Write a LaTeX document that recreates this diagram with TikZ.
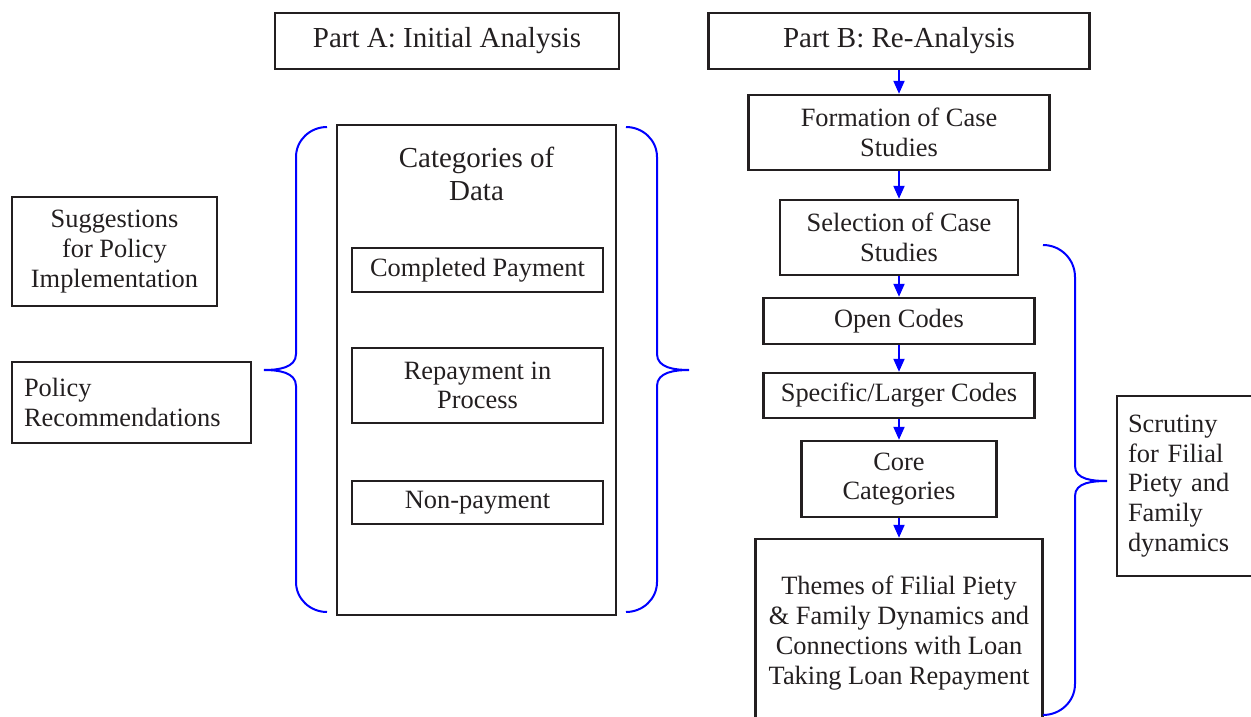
\documentclass[tikz,border=0pt]{standalone}
\usepackage{fontspec}
\setmainfont{Liberation Serif}
\usetikzlibrary{arrows.meta}
\definecolor{ink}{HTML}{231F20}
\definecolor{bl}{RGB}{0,0,255}
\begin{document}
\begin{tikzpicture}[x=1pt,y=-1pt,
  box/.style={draw=ink, line width=2.4pt, text=ink, inner sep=0pt, align=center,
              font=\fontsize{26.4}{29.7}\selectfont},
  hbox/.style={box, font=\fontsize{29}{33}\selectfont},
  lbox/.style={box, align=left},
  flow/.style={draw=bl, line width=2pt, -{Triangle[length=13pt,width=11pt]}},
  brace/.style={draw=bl, line width=2pt}]
\useasboundingbox (0,0) rectangle (1251,717);
\clip (0,0) rectangle (1251,717);

% headers
\node[hbox, minimum width=344pt, minimum height=56pt] (partA) at (447,41) {Part A: Initial Analysis};
\node[hbox, minimum width=381pt, minimum height=56pt] (partB) at (899,41) {Part B: Re-Analysis};

% left column
\node[box, minimum width=205pt, minimum height=109pt] (sugg) at (114.5,251.5) {Suggestions\\for Policy\\Implementation};
\node[lbox, text width=215pt, inner xsep=12pt, minimum height=81pt] (polrec) at (131.5,402.5) {Policy\\Recommendations};

% categories
\node[box, minimum width=279pt, minimum height=490pt] (cat) at (476.5,370) {};
\node[text=ink, align=center, inner sep=0pt, font=\fontsize{29}{33}\selectfont] (cattitle) at (476.5,174) {Categories of\\Data};
\node[box, minimum width=251pt, minimum height=44pt] (compl) at (477.5,270) {Completed Payment};
\node[box, minimum width=251pt, minimum height=75pt] (repay) at (477.5,385.5) {Repayment in\\Process};
\node[box, minimum width=251pt, minimum height=43pt] (nonpay) at (477.5,502.5) {Non-payment};

% right column
\node[box, minimum width=301pt, minimum height=75pt] (form) at (899,132.5) {Formation of Case\\Studies};
\node[box, minimum width=238pt, minimum height=75pt] (sel) at (899,237.5) {Selection of Case\\Studies};
\node[box, minimum width=271pt, minimum height=46pt] (open) at (899,321) {Open Codes};
\node[box, minimum width=271pt, minimum height=45pt] (spec) at (899,395.5) {Specific/Larger Codes};
\node[box, minimum width=195pt, minimum height=76pt] (core) at (899,479) {Core\\Categories};
\node[box, minimum width=287pt, minimum height=188pt] (themes) at (899,633) {Themes of Filial Piety\\\& Family Dynamics and\\Connections with Loan\\Taking Loan Repayment};
\node[lbox, text width=128pt, inner xsep=11pt, minimum height=180pt] (scrut) at (1192,486) {Scrutiny\\for Filial\\Piety and\\Family\\dynamics};

% arrows
\draw[flow] (partB.south) -- (form.north);
\draw[flow] (form.south) -- (sel.north);
\draw[flow] (sel.south) -- (open.north);
\draw[flow] (open.south) -- (spec.north);
\draw[flow] (spec.south) -- (core.north);
\draw[flow] (core.south) -- (themes.north);

% braces
\draw[brace] (327,127) to[out=180,in=90] (296,157) -- (296,354)
  to[out=-90,in=0] (264,370) to[out=0,in=90] (296,386) -- (296,582)
  to[out=-90,in=180] (327,612);
\draw[brace] (626,127) to[out=0,in=90] (657,157) -- (657,354)
  to[out=-90,in=180] (689,370) to[out=180,in=90] (657,386) -- (657,582)
  to[out=-90,in=0] (626,612);
\draw[brace] (1043,245) to[out=0,in=90] (1075,277) -- (1075,466)
  to[out=-90,in=180] (1107,481) to[out=180,in=90] (1075,496) -- (1075,684)
  to[out=-90,in=0] (1043,715);
\end{tikzpicture}
\end{document}
